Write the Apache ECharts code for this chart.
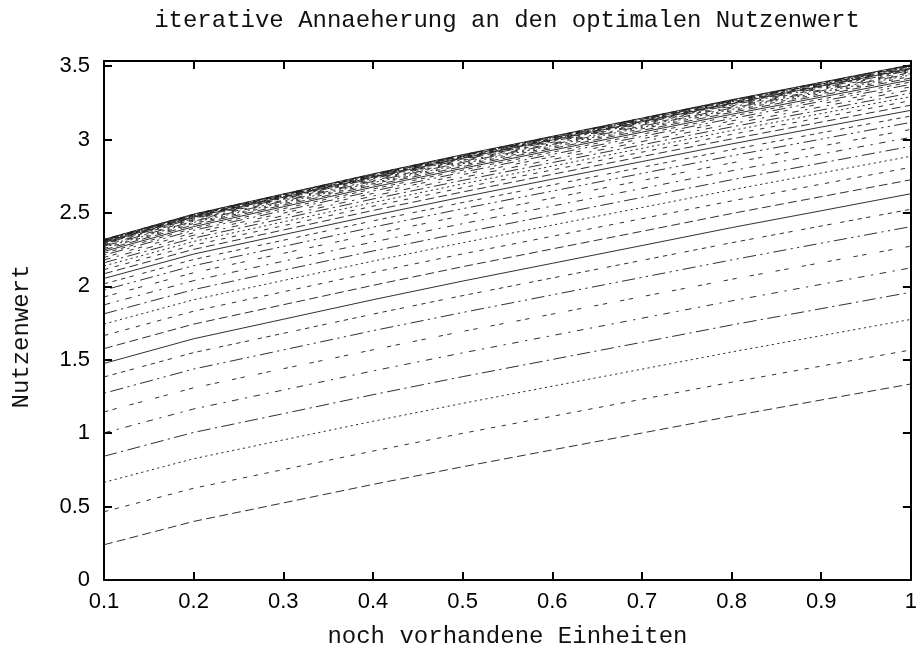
<!DOCTYPE html>
<html><head><meta charset="utf-8">
<script src="https://cdn.jsdelivr.net/npm/echarts@6/dist/echarts.min.js"></script>
<style>html,body{margin:0;padding:0;background:#fff}#c{width:920px;height:656px}</style>
</head><body><div id="c"></div>
<script>
// x positions (noch vorhandene Einheiten)
const xValues = [0.1, 0.2, 0.3, 0.4, 0.5, 0.6, 0.7, 0.8, 0.9, 1.0];
// y tick labels: 0 .. 3.5 step 0.5 ; x tick labels 0.1 .. 1 step 0.1
const titleText = 'iterative Annaeherung an den optimalen Nutzenwert';
const xName = 'noch vorhandene Einheiten';
const yName = 'Nutzenwert';

// iteration curves (Nutzenwert per x)
const it00 = [0, 0, 0, 0, 0, 0, 0, 0, 0, 0];
const it01 = [0.240, 0.399, 0.525, 0.651, 0.771, 0.886, 1.001, 1.116, 1.226, 1.335];
const it02 = [0.465, 0.625, 0.752, 0.878, 0.999, 1.115, 1.231, 1.347, 1.457, 1.567];
const it03 = [0.665, 0.826, 0.954, 1.081, 1.203, 1.320, 1.436, 1.553, 1.664, 1.775];
const it04 = [0.843, 1.005, 1.133, 1.262, 1.385, 1.502, 1.619, 1.737, 1.848, 1.960];
const it05 = [1.002, 1.165, 1.294, 1.424, 1.547, 1.665, 1.783, 1.901, 2.014, 2.126];
const it06 = [1.145, 1.309, 1.439, 1.568, 1.693, 1.811, 1.930, 2.048, 2.161, 2.274];
const it07 = [1.272, 1.437, 1.567, 1.698, 1.822, 1.942, 2.061, 2.180, 2.294, 2.407];
const it08 = [1.383, 1.549, 1.680, 1.811, 1.937, 2.057, 2.177, 2.297, 2.411, 2.525];
const it09 = [1.475, 1.643, 1.776, 1.909, 2.036, 2.157, 2.278, 2.400, 2.515, 2.631];
const it10 = [1.576, 1.743, 1.875, 2.007, 2.134, 2.255, 2.375, 2.496, 2.611, 2.726];
const it11 = [1.665, 1.831, 1.963, 2.095, 2.221, 2.341, 2.461, 2.582, 2.696, 2.811];
const it12 = [1.743, 1.909, 2.040, 2.172, 2.297, 2.417, 2.537, 2.657, 2.772, 2.886];
const it13 = [1.813, 1.978, 2.110, 2.241, 2.366, 2.486, 2.606, 2.726, 2.840, 2.954];
const it14 = [1.874, 2.039, 2.171, 2.302, 2.427, 2.547, 2.667, 2.787, 2.901, 3.015];
const it15 = [1.928, 2.093, 2.225, 2.356, 2.481, 2.601, 2.721, 2.841, 2.955, 3.069];
const it16 = [1.975, 2.141, 2.272, 2.403, 2.529, 2.649, 2.769, 2.889, 3.003, 3.117];
const it17 = [2.017, 2.183, 2.314, 2.446, 2.571, 2.691, 2.811, 2.931, 3.046, 3.160];
const it18 = [2.054, 2.220, 2.352, 2.483, 2.609, 2.730, 2.850, 2.970, 3.085, 3.199];
const it19 = [2.086, 2.252, 2.384, 2.517, 2.643, 2.763, 2.884, 3.004, 3.119, 3.234];
const it20 = [2.114, 2.281, 2.413, 2.546, 2.672, 2.793, 2.914, 3.035, 3.150, 3.265];
const it21 = [2.139, 2.306, 2.439, 2.571, 2.698, 2.819, 2.940, 3.061, 3.177, 3.292];
const it22 = [2.161, 2.329, 2.462, 2.595, 2.722, 2.843, 2.964, 3.086, 3.201, 3.317];
const it23 = [2.180, 2.348, 2.481, 2.615, 2.742, 2.864, 2.986, 3.107, 3.223, 3.339];
const it24 = [2.197, 2.365, 2.499, 2.633, 2.761, 2.883, 3.005, 3.127, 3.243, 3.359];
const it25 = [2.213, 2.382, 2.515, 2.649, 2.777, 2.899, 3.021, 3.143, 3.260, 3.376];
const it26 = [2.226, 2.395, 2.529, 2.663, 2.792, 2.914, 3.036, 3.159, 3.275, 3.392];
const it27 = [2.238, 2.407, 2.542, 2.676, 2.804, 2.927, 3.050, 3.172, 3.289, 3.406];
const it28 = [2.249, 2.419, 2.553, 2.688, 2.816, 2.939, 3.062, 3.185, 3.302, 3.419];
const it29 = [2.258, 2.428, 2.563, 2.698, 2.826, 2.949, 3.073, 3.196, 3.313, 3.430];
const it30 = [2.266, 2.436, 2.571, 2.706, 2.835, 2.959, 3.082, 3.205, 3.323, 3.440];
const it31 = [2.274, 2.444, 2.580, 2.715, 2.844, 2.967, 3.091, 3.214, 3.332, 3.449];
const it32 = [2.280, 2.451, 2.586, 2.721, 2.851, 2.974, 3.098, 3.222, 3.339, 3.457];
const it33 = [2.286, 2.457, 2.592, 2.728, 2.857, 2.981, 3.105, 3.228, 3.346, 3.464];
const it34 = [2.291, 2.462, 2.598, 2.734, 2.863, 2.987, 3.111, 3.235, 3.353, 3.471];
const it35 = [2.295, 2.466, 2.602, 2.738, 2.868, 2.992, 3.116, 3.241, 3.359, 3.477];
const it36 = [2.299, 2.471, 2.607, 2.743, 2.873, 2.997, 3.121, 3.245, 3.364, 3.482];
const it37 = [2.303, 2.475, 2.611, 2.747, 2.877, 3.001, 3.125, 3.249, 3.368, 3.486];
const it38 = [2.306, 2.478, 2.614, 2.750, 2.880, 3.005, 3.129, 3.253, 3.372, 3.490];
const it39 = [2.309, 2.481, 2.617, 2.753, 2.884, 3.008, 3.133, 3.257, 3.376, 3.494];
const it40 = [2.311, 2.483, 2.619, 2.756, 2.886, 3.011, 3.135, 3.260, 3.378, 3.497];
const it41 = [2.313, 2.485, 2.622, 2.758, 2.889, 3.013, 3.138, 3.263, 3.381, 3.500];
const it42 = [2.315, 2.487, 2.624, 2.761, 2.891, 3.016, 3.141, 3.265, 3.384, 3.503];
const it43 = [2.317, 2.489, 2.626, 2.763, 2.893, 3.018, 3.143, 3.267, 3.386, 3.505];
const it44 = [2.319, 2.491, 2.628, 2.765, 2.895, 3.020, 3.145, 3.269, 3.388, 3.507];
const it45 = [2.320, 2.492, 2.629, 2.766, 2.897, 3.022, 3.146, 3.271, 3.390, 3.509];

const iterations = [it00, it01, it02, it03, it04, it05, it06, it07, it08, it09,
  it10, it11, it12, it13, it14, it15, it16, it17, it18, it19,
  it20, it21, it22, it23, it24, it25, it26, it27, it28, it29,
  it30, it31, it32, it33, it34, it35, it36, it37, it38, it39,
  it40, it41, it42, it43, it44, it45];

// gnuplot-like monochrome dash cycle (9 types)
const u = 2.2;
const dashTypes = [
  'solid',
  [4*u, 2*u],
  [2*u, 3*u],
  [1*u, 1.5*u],
  [6*u, 2*u, 1*u, 2*u],
  [3*u, 3*u, 1*u, 3*u],
  [2*u, 2*u, 2*u, 6*u],
  [1*u, 2*u, 6*u, 2*u, 1*u, 2*u],
  [2*u, 2*u, 2*u, 2*u, 2*u, 2*u, 2*u, 4*u]
];

const series = iterations.map((arr, n) => ({
  type: 'line',
  name: 'Iteration ' + n,
  xAxisIndex: 0,
  yAxisIndex: 0,
  symbol: 'none',
  showSymbol: false,
  silent: true,
  animation: false,
  lineStyle: { color: '#1a1a1a', width: 0.9, type: dashTypes[n % 9] },
  data: xValues.map((x, i) => [x, arr[i]])
}));

const axisLine = { show: true, onZero: false, lineStyle: { color: '#000', width: 2 } };
const axisTick = { show: true, inside: true, length: 8, lineStyle: { color: '#000', width: 2 } };
const labelFont = { color: '#000', fontFamily: 'Liberation Sans', fontSize: 22 };
const monoFont = 'Liberation Mono';

const option = {
  animation: false,
  backgroundColor: '#fff',
  grid: { left: 104, right: 6, top: 61, bottom: 76, containLabel: false },
  graphic: [{
    type: 'text', x: 507, y: 21,
    style: { text: titleText, fill: '#111', font: '24px "Liberation Mono"', align: 'center', verticalAlign: 'middle' }
  }],
  xAxis: [
    { type: 'value', position: 'bottom', min: 0.1, max: 1, interval: 0.1,
      axisLine, axisTick, splitLine: { show: false },
      axisLabel: Object.assign({ margin: 11 }, labelFont),
      name: xName, nameLocation: 'middle', nameGap: 45,
      nameTextStyle: { color: '#111', fontFamily: monoFont, fontSize: 24 } },
    { type: 'value', position: 'top', min: 0.1, max: 1, interval: 0.1,
      axisLine, axisTick, splitLine: { show: false }, axisLabel: { show: false } }
  ],
  yAxis: [
    { type: 'value', position: 'left', min: 0, max: 3.535, interval: 0.5,
      axisLine, axisTick, splitLine: { show: false },
      axisLabel: Object.assign({ margin: 14, showMaxLabel: false }, labelFont),
      name: yName, nameLocation: 'middle', nameGap: 70,
      nameTextStyle: { color: '#111', fontFamily: monoFont, fontSize: 24, padding: [0, 32, 0, 0] } },
    { type: 'value', position: 'right', min: 0, max: 3.535, interval: 0.5,
      axisLine, axisTick, splitLine: { show: false }, axisLabel: { show: false } }
  ],
  series
};

const chart = echarts.init(document.getElementById('c'), null, { renderer: 'canvas' });
chart.setOption(option);
</script>
</body></html>
